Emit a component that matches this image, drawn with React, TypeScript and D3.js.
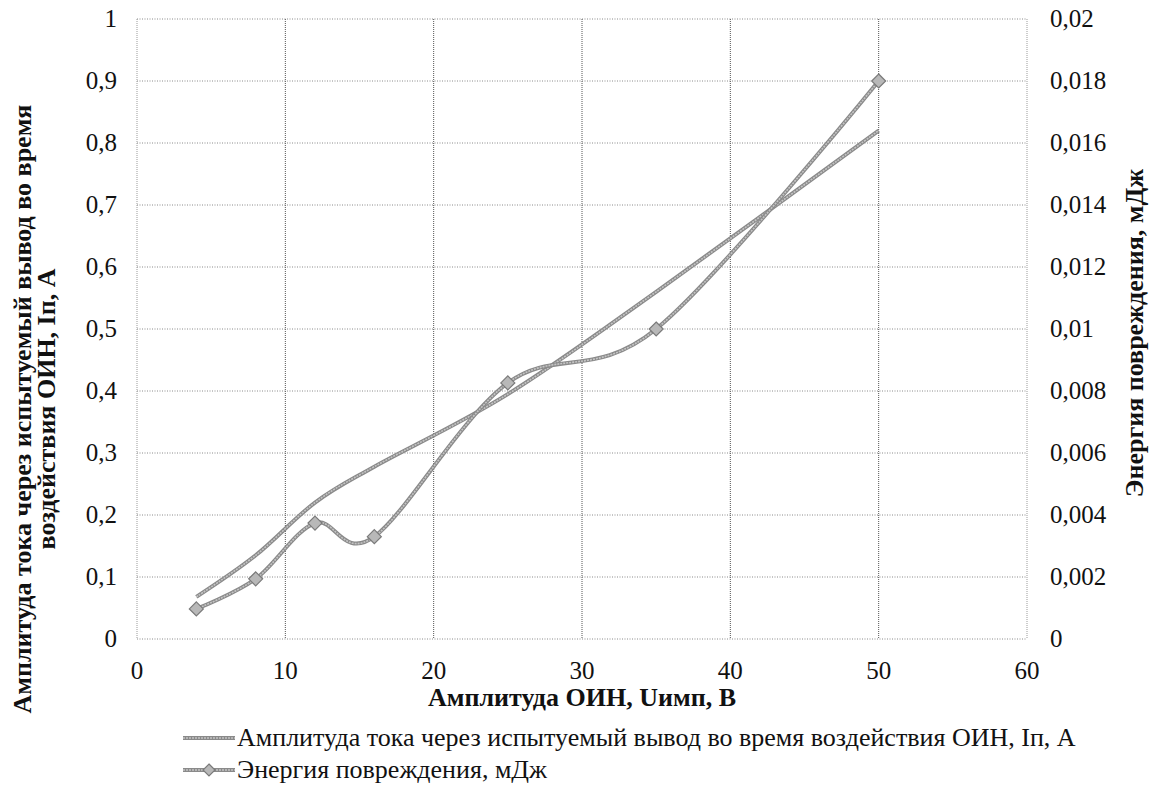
import React from "react";
import * as d3 from "d3";

const xValues = [4, 8, 12, 16, 25, 35, 50];
const currentValues = [0.068, 0.135, 0.22, 0.278, 0.395, 0.56, 0.82];
const energyValues = [0.00097, 0.00194, 0.00374, 0.0033, 0.00826, 0.01, 0.018];
const xTicks = [0, 10, 20, 30, 40, 50, 60];
const yLeftTicks = [0, 0.1, 0.2, 0.3, 0.4, 0.5, 0.6, 0.7, 0.8, 0.9, 1];
const yRightTicks = [0, 0.002, 0.004, 0.006, 0.008, 0.01, 0.012, 0.014, 0.016, 0.018, 0.02];

const seriesNames = [
  "Амплитуда  тока через испытуемый  вывод во время воздействия ОИН, Iп, А",
  "Энергия повреждения, мДж",
];
const xTitle = "Амплитуда ОИН, Uимп, В";
const yLeftTitle1 = "Амплитуда тока через испытуемый вывод во время";
const yLeftTitle2 = "воздействия ОИН, Iп, А";
const yRightTitle = "Энергия повреждения, мДж";

const W = 1156;
const H = 789;
const L = 137, R = 1027, T = 19, B = 639;
const FONT = "Liberation Serif, Times New Roman, DejaVu Serif, serif";
const FS = 25;

const fmt = (v: number) => String(+v.toFixed(4)).replace(".", ",");

export default function App() {
  const x = d3.scaleLinear().domain([0, 60]).range([L, R]);
  const yL = d3.scaleLinear().domain([0, 1]).range([B, T]);
  const yR = d3.scaleLinear().domain([0, 0.02]).range([B, T]);

  const curLine = d3
    .line<number>()
    .x((_, i) => x(xValues[i]))
    .y((d) => yL(d))
    .curve(d3.curveCardinal.tension(0));
  const enLine = d3
    .line<number>()
    .x((_, i) => x(xValues[i]))
    .y((d) => yR(d))
    .curve(d3.curveCardinal.tension(0));

  const diamond = (cx: number, cy: number, s = 7) =>
    `M${cx},${cy - s}L${cx + s},${cy}L${cx},${cy + s}L${cx - s},${cy}Z`;

  const seriesStroke = (d: string) => (
    <g>
      <path d={d} fill="none" stroke="#8a8a8a" strokeWidth={4} />
      <path d={d} fill="none" stroke="#c4c4c4" strokeWidth={1.6} strokeDasharray="2,1" />
    </g>
  );

  const txt = { fontFamily: FONT, fill: "#111" } as React.CSSProperties;

  return (
    <svg width={W} height={H} style={{ position: "absolute", left: 0, top: 0, background: "#fff", fontFamily: FONT }}>
      <rect width={W} height={H} fill="#fff" />
      {yLeftTicks.map((t) => (
        <line key={"h" + t} x1={L} x2={R} y1={yL(t)} y2={yL(t)} stroke="#8a8a8a" strokeWidth={1} strokeDasharray="1,1.5" />
      ))}
      {xTicks.map((t) => (
        <line
          key={"v" + t}
          x1={x(t)}
          x2={x(t)}
          y1={T}
          y2={B}
          stroke={t === 0 || t === 60 ? "#9a9a9a" : "#555"}
          strokeWidth={1}
          strokeDasharray="1,1"
        />
      ))}
      {seriesStroke(curLine(currentValues) || "")}
      {seriesStroke(enLine(energyValues) || "")}
      {energyValues.map((v, i) => (
        <path key={"m" + i} d={diamond(x(xValues[i]), yR(v))} fill="#b8b8b8" stroke="#7a7a7a" strokeWidth={1.2} />
      ))}
      {yLeftTicks.map((t) => (
        <text key={"yl" + t} x={117} y={yL(t)} dy="0.33em" textAnchor="end" fontSize={FS} style={txt}>
          {fmt(t)}
        </text>
      ))}
      {yRightTicks.map((t) => (
        <text key={"yr" + t} x={1050} y={yR(t)} dy="0.33em" textAnchor="start" fontSize={FS} style={txt}>
          {fmt(t)}
        </text>
      ))}
      {xTicks.map((t) => (
        <text key={"xt" + t} x={x(t)} y={679} textAnchor="middle" fontSize={FS} style={txt}>
          {fmt(t)}
        </text>
      ))}
      <text x={x(30)} y={706} textAnchor="middle" fontSize={26} fontWeight="bold" style={txt}>
        {xTitle}
      </text>
      <text transform={`translate(31,409) rotate(-90)`} textAnchor="middle" fontSize={26} fontWeight="bold" style={txt}>
        {yLeftTitle1}
      </text>
      <text transform={`translate(55,409) rotate(-90)`} textAnchor="middle" fontSize={26} fontWeight="bold" style={txt}>
        {yLeftTitle2}
      </text>
      <text transform={`translate(1143,333) rotate(-90)`} textAnchor="middle" fontSize={26} fontWeight="bold" style={txt}>
        {yRightTitle}
      </text>
      {seriesStroke(`M183,738L235,738`)}
      <text x={237} y={746} fontSize={26} style={txt}>
        {seriesNames[0]}
      </text>
      {seriesStroke(`M183,770L235,770`)}
      <path d={diamond(209, 770, 6)} fill="#b8b8b8" stroke="#7a7a7a" strokeWidth={1.2} />
      <text x={237} y={778} fontSize={26} style={txt}>
        {seriesNames[1]}
      </text>
    </svg>
  );
}
